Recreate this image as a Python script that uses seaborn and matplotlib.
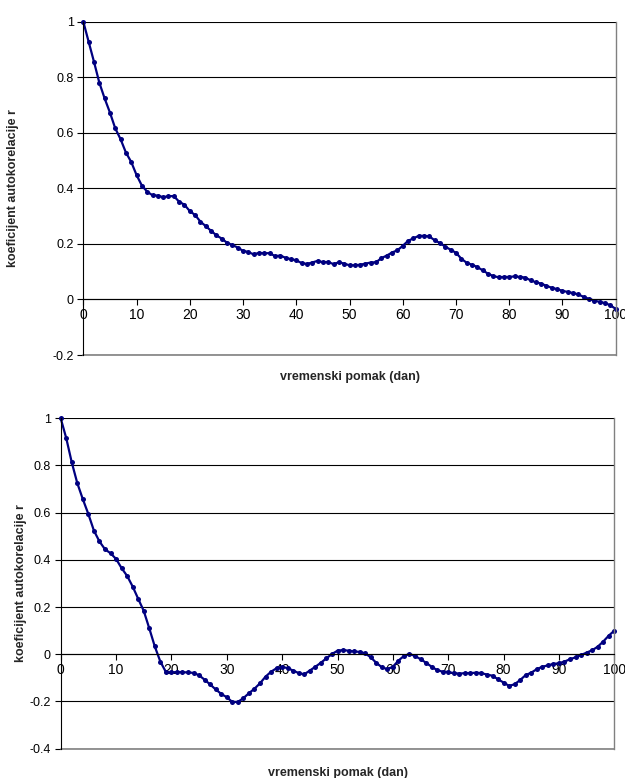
# Autocorrelation plots, two stacked charts in an Excel-like style.
import numpy as np
import pandas as pd
import matplotlib
matplotlib.use('Agg')
import matplotlib.pyplot as plt
import seaborn as sns

# Lags (days) and autocorrelation coefficients.
lags = list(range(0, 101))

r_top = [1.000, 0.928, 0.856, 0.781, 0.724, 0.673, 0.616, 0.577, 0.529, 0.495,
         0.448, 0.410, 0.388, 0.375, 0.374, 0.368, 0.372, 0.372, 0.352, 0.341,
         0.318, 0.304, 0.280, 0.264, 0.247, 0.231, 0.219, 0.204, 0.196, 0.187,
         0.175, 0.171, 0.162, 0.168, 0.166, 0.167, 0.156, 0.158, 0.150, 0.145,
         0.141, 0.131, 0.128, 0.133, 0.139, 0.134, 0.135, 0.127, 0.134, 0.129,
         0.123, 0.123, 0.125, 0.129, 0.133, 0.134, 0.149, 0.158, 0.169, 0.177,
         0.193, 0.211, 0.220, 0.229, 0.229, 0.227, 0.213, 0.203, 0.190, 0.179,
         0.168, 0.147, 0.132, 0.125, 0.117, 0.105, 0.093, 0.084, 0.080, 0.081,
         0.081, 0.083, 0.081, 0.079, 0.069, 0.062, 0.057, 0.049, 0.042, 0.037,
         0.031, 0.027, 0.023, 0.018, 0.009, 0.002, -0.004, -0.009, -0.013, -0.021,
         -0.034]

r_bottom = [1.000, 0.916, 0.813, 0.725, 0.657, 0.594, 0.524, 0.478, 0.445, 0.428,
            0.404, 0.365, 0.332, 0.287, 0.235, 0.184, 0.110, 0.033, -0.031, -0.075,
            -0.077, -0.075, -0.076, -0.077, -0.079, -0.089, -0.108, -0.128, -0.149, -0.168,
            -0.182, -0.202, -0.202, -0.186, -0.165, -0.146, -0.123, -0.095, -0.074, -0.059,
            -0.053, -0.059, -0.069, -0.080, -0.085, -0.069, -0.053, -0.036, -0.017, 0.001,
            0.015, 0.018, 0.015, 0.012, 0.010, 0.004, -0.013, -0.036, -0.055, -0.063,
            -0.053, -0.027, -0.007, 0.001, -0.007, -0.021, -0.036, -0.053, -0.067, -0.074,
            -0.075, -0.080, -0.082, -0.080, -0.080, -0.078, -0.080, -0.086, -0.091, -0.106,
            -0.120, -0.134, -0.127, -0.109, -0.088, -0.078, -0.063, -0.053, -0.047, -0.041,
            -0.038, -0.031, -0.021, -0.013, -0.003, 0.007, 0.017, 0.032, 0.054, 0.079,
            0.100]

x_ticks = list(range(0, 101, 10))
top_yticks = [-0.2, 0, 0.2, 0.4, 0.6, 0.8, 1]
bottom_yticks = [-0.4, -0.2, 0, 0.2, 0.4, 0.6, 0.8, 1]

xlabel = 'vremenski pomak (dan)'
ylabel = 'koeficijent autokorelacije r'

sns.set_style('white')
plt.rcParams['font.family'] = ['Liberation Sans', 'DejaVu Sans']

fig = plt.figure(figsize=(6.25, 7.78), dpi=100)
ax_top = fig.add_axes([0.1333, 0.5437, 0.8518, 0.4284])
ax_bot = fig.add_axes([0.0971, 0.0377, 0.8858, 0.4247])

line_color = '#000080'


def fmt(v):
    if abs(v - round(v)) < 1e-9:
        return str(int(round(v)))
    return '%g' % v


def style_axes(ax, yticks, ylab_x, xlab_y):
    ax.set_xlim(0, 100)
    ax.set_ylim(yticks[0], yticks[-1])
    ax.set_xticks(x_ticks)
    ax.set_xticklabels([str(t) for t in x_ticks], fontsize=9)
    ax.set_yticks(yticks)
    ax.set_yticklabels([fmt(t) for t in yticks], fontsize=9)
    # horizontal gridlines, black like Excel
    ax.yaxis.grid(True, color='black', linewidth=0.8)
    ax.xaxis.grid(False)
    ax.set_axisbelow(True)
    # x axis crosses at zero
    ax.spines['bottom'].set_position(('data', 0))
    ax.spines['bottom'].set_color('black')
    ax.spines['bottom'].set_linewidth(0.8)
    ax.spines['left'].set_color('black')
    ax.spines['left'].set_linewidth(0.8)
    ax.spines['top'].set_visible(False)
    ax.spines['right'].set_color('#808080')
    ax.spines['right'].set_linewidth(1.0)
    # gray plot-area border at the bottom
    ax.plot([0, 1], [0, 0], transform=ax.transAxes, color='#808080',
            linewidth=1.2, clip_on=False)
    ax.tick_params(axis='both', direction='out', length=4, width=0.8,
                   color='black', labelcolor='black')
    ax.tick_params(axis='x', pad=2.5)
    ax.tick_params(axis='y', pad=3)
    ax.xaxis.set_ticks_position('bottom')
    ax.yaxis.set_ticks_position('left')
    ax.set_xlabel(xlabel, fontsize=9, fontweight='bold')
    ax.set_ylabel(ylabel, fontsize=9, fontweight='bold')
    ax.xaxis.set_label_coords(0.5, xlab_y)
    ax.yaxis.set_label_coords(ylab_x, 0.5)


df_top = pd.DataFrame({'lag': lags, 'r': r_top})
df_bot = pd.DataFrame({'lag': lags, 'r': r_bottom})

sns.lineplot(data=df_top, x='lag', y='r', ax=ax_top, color=line_color,
             linewidth=1.6, marker='o', markersize=3.6, markeredgewidth=0,
             clip_on=False)
sns.lineplot(data=df_bot, x='lag', y='r', ax=ax_bot, color=line_color,
             linewidth=1.6, marker='o', markersize=3.6, markeredgewidth=0,
             clip_on=False)

style_axes(ax_top, top_yticks, -0.12, -0.048)
style_axes(ax_bot, bottom_yticks, -0.06, -0.056)

fig.savefig('out.png', dpi=100)
